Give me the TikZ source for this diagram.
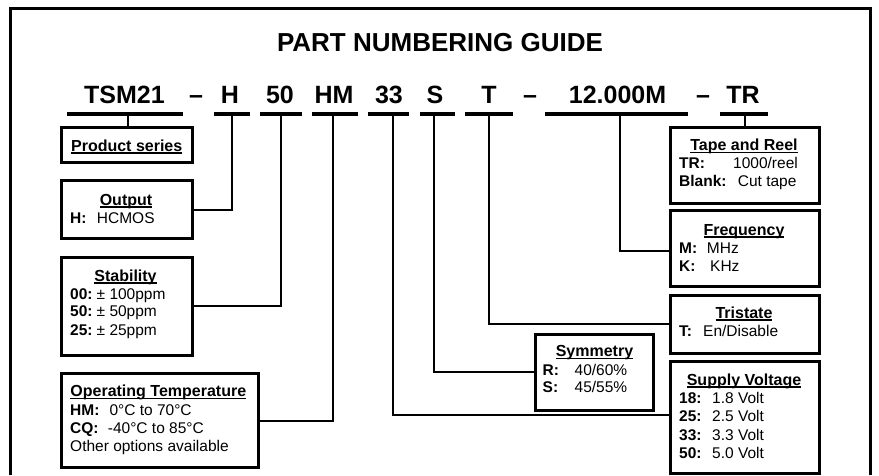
\documentclass[tikz,border=0pt]{standalone}
\usepackage{fontspec}
\setmainfont{Liberation Sans}
\newlength\ulwd
\newcommand\ulh[1]{\settowidth\ulwd{#1}\rlap{\rule[-2.6pt]{\ulwd}{1.4pt}}#1}
\begin{document}
\begin{tikzpicture}[x=1pt,y=-1pt,
  frame/.style={line width=3pt},
  box/.style={draw,line width=3pt,inner sep=0,outer sep=0},
  seg/.style={fill=black,draw=none,inner sep=0,minimum height=3.5pt},
  wire/.style={line width=2pt},
  ttl/.style={anchor=base,inner sep=0,font=\fontsize{26}{30}\selectfont\bfseries},
  code/.style={anchor=base,inner sep=0,font=\fontsize{25}{30}\selectfont\bfseries},
  hd/.style={anchor=base,inner sep=0,font=\fontsize{16}{19}\selectfont\bfseries},
  lb/.style={anchor=base west,inner sep=0,font=\fontsize{15.5}{18}\selectfont\bfseries},
  tx/.style={anchor=base west,inner sep=0,font=\fontsize{15.5}{18}\selectfont}]
\useasboundingbox (0,0) rectangle (879,475);
\fill[white] (0,0) rectangle (879,475);
% frame
\draw[frame] (10.5,475) -- (10.5,8.7) -- (870,8.7) -- (870,475);
% title
\node[ttl] (title) at (440,51) {PART NUMBERING GUIDE};
% code row
\node[code] (cTSM) at (124.5,103) {TSM21};
\node[code] (cd1) at (196,103) {–};
\node[code] (cH) at (230,103) {H};
\node[code] (c50) at (280,103) {50};
\node[code] (cHM) at (334,103) {HM};
\node[code] (c33) at (389,103) {33};
\node[code] (cS) at (435,103) {S};
\node[code] (cT) at (489,103) {T};
\node[code] (cd2) at (530,103) {–};
\node[code] (cM) at (617.5,103) {12.000M};
\node[code] (cd3) at (703,103) {–};
\node[code] (cTR) at (743,103) {TR};
% underlines
\node[seg,minimum width=115.4pt] (sTSM) at (125,114) {};
\node[seg,minimum width=36pt] (sH) at (232,114) {};
\node[seg,minimum width=41.7pt] (s50) at (280.8,114) {};
\node[seg,minimum width=46.6pt] (sHM) at (335,114) {};
\node[seg,minimum width=41pt] (s33) at (388.8,114) {};
\node[seg,minimum width=35pt] (sS) at (437.5,114) {};
\node[seg,minimum width=48.3pt] (sT) at (489,114) {};
\node[seg,minimum width=143.3pt] (sM) at (616.7,114) {};
\node[seg,minimum width=48.3pt] (sTR) at (744,114) {};
% boxes
\node[box,minimum width=131pt,minimum height=35pt] (product) at (126.5,144.5) {};
\node[box,minimum width=131pt,minimum height=57.6pt] (output) at (126.5,209.5) {};
\node[box,minimum width=131pt,minimum height=97.7pt] (stab) at (126.5,306.2) {};
\node[box,minimum width=197pt,minimum height=93.7pt] (optemp) at (159.5,420.8) {};
\node[box,minimum width=149pt,minimum height=76pt] (tape) at (744.5,165) {};
\node[box,minimum width=149pt,minimum height=75.7pt] (freq) at (744.5,248.8) {};
\node[box,minimum width=149pt,minimum height=58.3pt] (trist) at (744.5,324.2) {};
\node[box,minimum width=149pt,minimum height=111.6pt] (supply) at (744.5,417.5) {};
\node[box,minimum width=118.3pt,minimum height=76pt] (sym) at (594.2,372) {};
% connectors
\draw[wire] ([xshift=3pt]sTSM.south) -- ([xshift=3pt]sTSM.south |- product.north);
\draw[wire] (sH.south) |- (output.east);
\draw[wire] (s50.south) |- (stab.east);
\draw[wire] ([xshift=-2.3pt]sHM.south) |- (optemp.east);
\draw[wire] ([xshift=4.5pt]s33.south) |- ([yshift=2.5pt]supply.west);
\draw[wire] ([xshift=-3.2pt]sS.south) |- (sym.west);
\draw[wire] (sT.south) |- (trist.west);
\draw[wire] ([xshift=3.3pt]sM.south) |- ([yshift=-1.8pt]freq.west);
\draw[wire] ([xshift=1pt]sTR.south) -- ([xshift=1pt]sTR.south |- tape.north);
% product series
\node[hd] (hProd) at (126.7,151) {\ulh{Product series}};
% output
\node[hd] (hOut) at (126,205) {\ulh{Output}};
\node[lb] (lOutH) at (70,223.3) {H:};
\node[tx] (tOutH) at (96.7,223.3) {HCMOS};
% stability
\node[hd] (hStab) at (125.5,281) {\ulh{Stability}};
\node[lb] (lSt00) at (70,299) {00:};
\node[tx] (tSt00) at (96.5,299) {± 100ppm};
\node[lb] (lSt50) at (70,316.7) {50:};
\node[tx] (tSt50) at (96.5,316.7) {± 50ppm};
\node[lb] (lSt25) at (70,335) {25:};
\node[tx] (tSt25) at (96.5,335) {± 25ppm};
% operating temperature
\node[hd] (hOp) at (158.3,396.7) {\ulh{Operating Temperature}};
\node[lb] (lOpHM) at (70,415) {HM:};
\node[tx] (tOpHM) at (109.3,415) {0°C to 70°C};
\node[lb] (lOpCQ) at (70,433) {CQ:};
\node[tx] (tOpCQ) at (107.7,433) {-40°C to 85°C};
\node[tx] (tOpOth) at (70,451.7) {Other options available};
% tape and reel
\node[hd] (hTape) at (744,150.7) {\ulh{Tape and Reel}};
\node[lb] (lTR) at (679,168.3) {TR:};
\node[tx] (tTR) at (733,168.3) {1000/reel};
\node[lb] (lBl) at (679,186.7) {Blank:};
\node[tx] (tBl) at (737.7,186.7) {Cut tape};
% frequency
\node[hd] (hFreq) at (744,235) {\ulh{Frequency}};
\node[lb] (lFM) at (679,253.3) {M:};
\node[tx] (tFM) at (706.7,253.3) {MHz};
\node[lb] (lFK) at (679,271.7) {K:};
\node[tx] (tFK) at (710,271.7) {KHz};
% tristate
\node[hd] (hTri) at (744,318) {\ulh{Tristate}};
\node[lb] (lTriT) at (679,336.7) {T:};
\node[tx] (tTriT) at (703,336.7) {En/Disable};
% supply voltage
\node[hd] (hSup) at (744,385) {\ulh{Supply Voltage}};
\node[lb] (lS18) at (679,403.3) {18:};
\node[tx] (tS18) at (712,403.3) {1.8 Volt};
\node[lb] (lS25) at (679,421.7) {25:};
\node[tx] (tS25) at (712,421.7) {2.5 Volt};
\node[lb] (lS33) at (679,440) {33:};
\node[tx] (tS33) at (712,440) {3.3 Volt};
\node[lb] (lS50) at (679,458.3) {50:};
\node[tx] (tS50) at (712,458.3) {5.0 Volt};
% symmetry
\node[hd] (hSym) at (594.5,356.7) {\ulh{Symmetry}};
\node[lb] (lSyR) at (542.5,375) {R:};
\node[tx] (tSyR) at (574.5,375) {40/60\%};
\node[lb] (lSyS) at (542.5,392.7) {S:};
\node[tx] (tSyS) at (574.5,392.7) {45/55\%};
\end{tikzpicture}
\end{document}
